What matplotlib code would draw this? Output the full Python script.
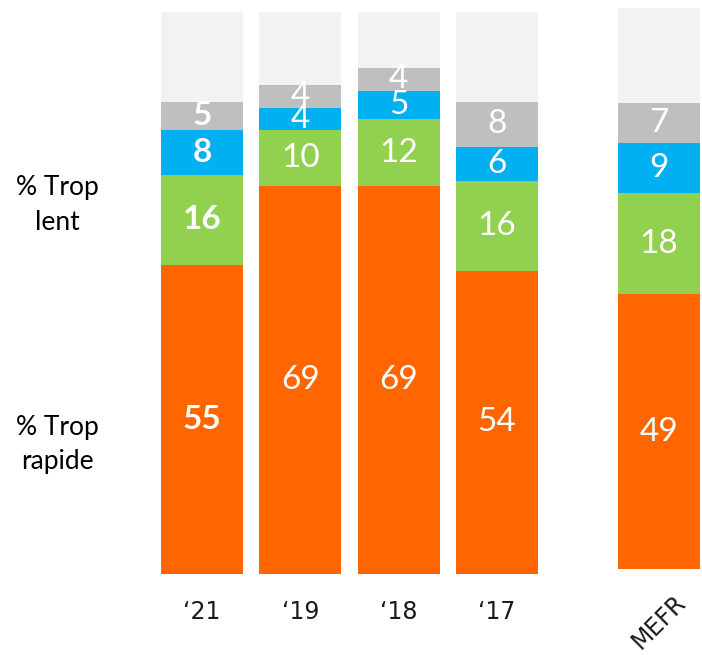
import matplotlib.pyplot as plt
import numpy as np

# données
annees = ['\u201821', '\u201819', '\u201818', '\u201817']
trop_rapide = [55, 69, 69, 54]
vert = [16, 10, 12, 16]
bleu = [8, 4, 5, 6]
gris = [5, 4, 4, 8]
gras = [True, False, False, False]

mefr_label = 'MEFR'
mefr = [49, 18, 9, 7]

couleurs = ['#FF6600', '#92D050', '#00B0F0', '#BFBFBF']
fond = '#F2F2F2'
police = 'Lato'

fig = plt.figure(figsize=(7.02, 6.55), dpi=100)

W = 702.0
H = 655.0
ax = fig.add_axes([153 / W, (H - 574) / H, 393 / W, 562 / H])
ax2 = fig.add_axes([610 / W, (H - 569) / H, 98.3 / W, 561 / H])


def empiler(axe, x, series, bold, largeur=0.834):
    bas = np.zeros(len(x))
    for vals, c in zip(series, couleurs):
        vals = np.array(vals, dtype=float)
        axe.bar(x, vals, largeur, bottom=bas, color=c, edgecolor='none')
        for xi, b, v, bb in zip(x, bas, vals, bold):
            axe.text(xi, b + v / 2, f'{int(v)}', ha='center', va='center',
                     color='white', fontsize=24, family=police,
                     fontweight='bold' if bb else 'normal')
        bas = bas + vals
    axe.bar(x, 100 - bas, largeur, bottom=bas, color=fond, edgecolor='none')
    axe.set_ylim(0, 100)
    for s in axe.spines.values():
        s.set_visible(False)
    axe.set_yticks([])
    axe.tick_params(axis='x', length=0)


x = np.arange(len(annees))
empiler(ax, x, [trop_rapide, vert, bleu, gris], gras)
ax.set_xlim(-0.5, 3.5)
ax.set_xticks(x)
ax.set_xticklabels(annees, fontsize=17, family='DejaVu Sans', color='#1a1a1a')
ax.tick_params(axis='x', pad=19)

empiler(ax2, [0], [[v] for v in mefr], [False])
ax2.set_xlim(-0.5, 0.5)
ax2.set_xticks([0])
ax2.set_xticklabels([mefr_label], fontsize=17, family='DejaVu Sans', rotation=45,
                    ha='center', va='center', rotation_mode='anchor', color='#1a1a1a')
ax2.tick_params(axis='x', pad=38)

fig.text(57 / W, 1 - 205 / H, '% Trop\nlent', ha='center', va='center',
         fontsize=19, family=police, linespacing=1.45)
fig.text(57 / W, 1 - 444 / H, '% Trop\nrapide', ha='center', va='center',
         fontsize=19, family=police, linespacing=1.45)

fig.savefig('out.png', dpi=100)
